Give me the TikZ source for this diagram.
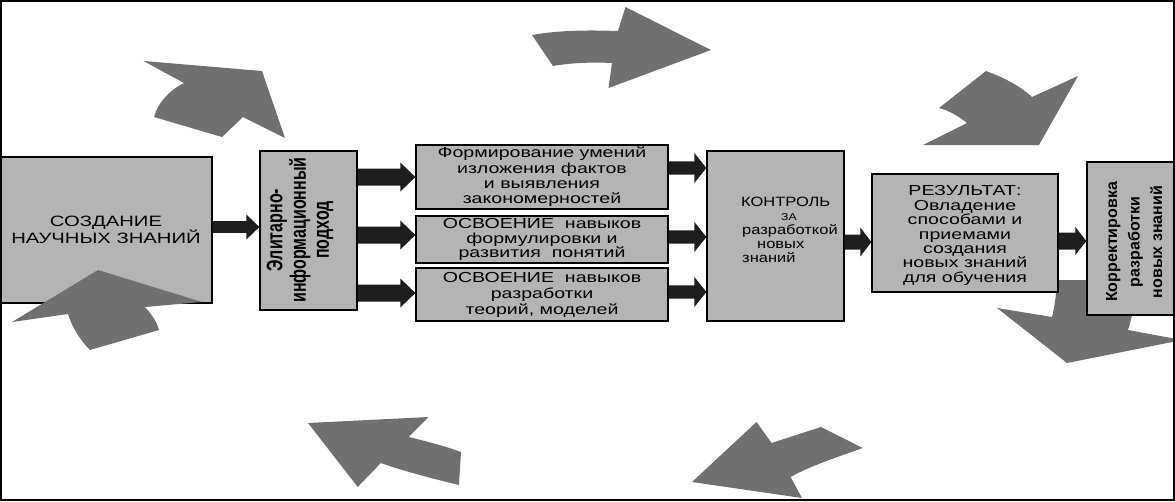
\documentclass[tikz,border=0pt]{standalone}
\usepackage{fontspec}
\setmainfont{Liberation Sans}
\newfontfamily\hf{Liberation Sans}[FakeStretch=1.35]
\newfontfamily\cf{Liberation Sans}[FakeStretch=1.22]
\usepackage{graphicx}
\usetikzlibrary{calc}
\definecolor{boxgray}{HTML}{B4B4B4}
\definecolor{biggray}{HTML}{707070}
\definecolor{blk}{HTML}{1E1E1E}
\tikzset{
  box/.style={draw=black, line width=1.3pt, fill=boxgray, inner sep=0pt, align=center},
  garrow/.style={fill=biggray},
  barrow/.style={fill=blk},
  lbl/.style={inner sep=0pt, align=center},
}
% block arrow: from, to, half shaft, half head, head length
\newcommand\barr[5]{%
  \fill[barrow] let \p1=(#1), \p2=(#2) in
    (\x1,\y1+#3) -- (\x2-#5,\y1+#3) -- (\x2-#5,\y1+#4) -- (\x2,\y1)
    -- (\x2-#5,\y1-#4) -- (\x2-#5,\y1-#3) -- (\x1,\y1-#3) -- cycle;}
\begin{document}
\begin{tikzpicture}[x=1pt,y=-1pt]
\useasboundingbox (0,0) rectangle (1175,501);
\begin{scope}
\clip (1,1) rectangle (1174,500);
% big gray cycle arrows (behind boxes)
\fill[garrow] (143.5,61) -- (262,71) -- (285,138) -- (243,117) -- (222,137) -- (154,117)
  .. controls (158,102) and (170,90) .. (184,83) -- cycle;
\fill[garrow] (532,35) .. controls (560,30) and (590,30) .. (618,31) -- (625.5,7) -- (711,50)
  -- (608.5,88) -- (612,63) .. controls (590,62) and (570,63) .. (553,66) -- cycle;
\fill[garrow] (986,71) .. controls (1005,78) and (1020,86) .. (1032,97) -- (1078,76) -- (1039,145)
  -- (923,145) -- (967,123) .. controls (958,116) and (950,111) .. (939,108) -- cycle;
\fill[garrow] (1057,280) .. controls (1056,295) and (1055,305) .. (1052,317) -- (997,308) -- (1067,363)
  -- (1182,340) -- (1128,330) .. controls (1133,315) and (1135,300) .. (1135,280) -- cycle;
\fill[garrow] (756.5,422) -- (771.6,443) -- (821,427) -- (862.7,448)
  .. controls (835,458) and (810,466) .. (790.6,477) -- (802,498) -- (692,482) -- cycle;
\fill[garrow] (308,423) -- (428.6,417) -- (408.7,437) .. controls (425,441) and (445,446) .. (461,452)
  -- (459,485) .. controls (430,478) and (400,470) .. (380.8,463) -- (357.8,487) -- cycle;
% boxes
\node[box, minimum width=212pt, minimum height=146pt, font=\hf\fontsize{15}{15.5}\selectfont] (b1) at (106,230)
  {СОЗДАНИЕ\\НАУЧНЫХ ЗНАНИЙ};
\node[box, minimum width=97pt, minimum height=159pt] (b2) at (308.5,230.5) {};
\node[box, minimum width=252pt, minimum height=64pt, font=\hf\fontsize{14.5}{15.3}\selectfont] (bA) at (542,177)
  {Формирование умений\\изложения фактов\\и выявления\\закономерностей};
\node[box, minimum width=252pt, minimum height=47pt, font=\hf\fontsize{14.5}{14.5}\selectfont] (bB) at (542,239.5)
  {ОСВОЕНИЕ~~навыков\\формулировки и\\развития~~понятий};
\node[box, minimum width=252pt, minimum height=53pt, font=\hf\fontsize{14.5}{16}\selectfont] (bC) at (542,294.5)
  {ОСВОЕНИЕ~~навыков\\разработки\\теорий, моделей};
\node[box, minimum width=137pt, minimum height=170pt] (bK) at (775.5,236) {};
\node[box, minimum width=186pt, minimum height=118pt] (bR) at (965,233) {};
\node[box, minimum width=91pt, minimum height=153pt] (bQ) at (1132.5,238.5) {};
% gray arrow over the first box
\fill[garrow] (98,270) -- (202,302) -- (145,307) .. controls (152,315) and (157,322) .. (159,330)
  -- (90,350) .. controls (80,340) and (72,327) .. (68,314) -- (12,322) -- cycle;
% texts
\node[lbl, font=\bfseries\fontsize{16}{16.5}\selectfont] (t2) at (301,230)
  {\scalebox{1.4}[1]{\rotatebox{90}{\begin{tabular}{@{}c@{}}Элитарно-\\информационный\\подход\end{tabular}}}};
\node[lbl, align=left, anchor=west, font=\cf\fontsize{13.5}{14}\selectfont] (tK) at (741,230)
  {КОНТРОЛЬ\\\hspace*{40pt}{\fontsize{10}{10}\selectfont ЗА}\\\hspace*{1pt}разработкой\\\hspace*{16pt}новых\\\hspace*{1pt}знаний};
\node[lbl, font=\hf\fontsize{14.5}{14.4}\selectfont] (tR) at (965,235.5)
  {РЕЗУЛЬТАТ:\\Овладение\\способами и\\приемами\\создания\\новых знаний\\для обучения};
\node[lbl, font=\bfseries\fontsize{16}{22.5}\selectfont] (tQ) at (1135,242)
  {\rotatebox{90}{\begin{tabular}{@{}c@{}}Корректировка\\разработки\\новых знаний\end{tabular}}};
% black block arrows
\barr{b1.east |- 0,227}{b2.west |- 0,227}{5.9pt}{12.5pt}{13pt}
\barr{b2.east |- 0,177}{bA.west |- 0,177}{8.5pt}{14.5pt}{15pt}
\barr{b2.east |- 0,235}{bB.west |- 0,235}{8.5pt}{14.5pt}{15pt}
\barr{b2.east |- 0,293}{bC.west |- 0,293}{8.5pt}{14.5pt}{15pt}
\barr{bA.east |- 0,168}{bK.west |- 0,168}{6.7pt}{15pt}{12pt}
\barr{bB.east |- 0,237}{bK.west |- 0,237}{6.7pt}{15pt}{12pt}
\barr{bC.east |- 0,292}{bK.west |- 0,292}{6.7pt}{15pt}{12pt}
\barr{bK.east |- 0,242}{bR.west |- 0,242}{7.5pt}{14.5pt}{11pt}
\barr{bR.east |- 0,241}{bQ.west |- 0,241}{8.5pt}{14pt}{11pt}
\end{scope}
\draw[line width=2pt] (1,1) rectangle (1174,500);
\end{tikzpicture}
\end{document}
